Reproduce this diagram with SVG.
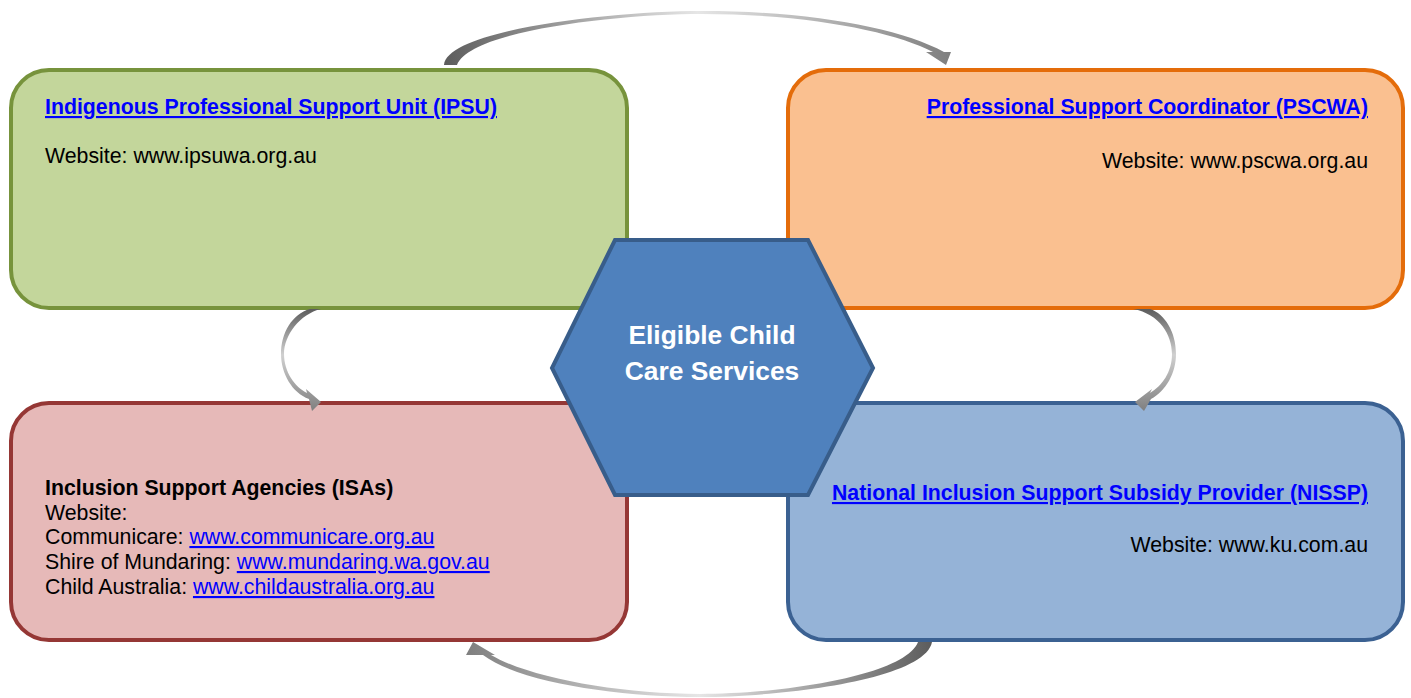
<svg xmlns="http://www.w3.org/2000/svg" width="1411" height="698" viewBox="0 0 1411 698">
<defs>
<style>
.t{font-family:"Liberation Sans",Arial,sans-serif;font-size:21.3px;fill:#000}
.b{font-weight:bold}
.lk{fill:#0000ff;text-decoration:underline}
.hx{font-family:"Liberation Sans",Arial,sans-serif;font-size:26.4px;font-weight:bold;fill:#fff}
.box{stroke-width:4}
</style>
<linearGradient id="gTop" gradientUnits="userSpaceOnUse" x1="444" y1="0" x2="951" y2="0">
<stop offset="0" stop-color="#5c5c5c"/><stop offset="0.5" stop-color="#e6e6e6"/><stop offset="1" stop-color="#7f7f7f"/>
</linearGradient>
<linearGradient id="gBot" gradientUnits="userSpaceOnUse" x1="932" y1="0" x2="466" y2="0">
<stop offset="0" stop-color="#5c5c5c"/><stop offset="0.5" stop-color="#e6e6e6"/><stop offset="1" stop-color="#7f7f7f"/>
</linearGradient>
<linearGradient id="gSide" gradientUnits="userSpaceOnUse" x1="0" y1="309" x2="0" y2="411">
<stop offset="0" stop-color="#5c5c5c"/><stop offset="0.45" stop-color="#d0d0d0"/><stop offset="1" stop-color="#7f7f7f"/>
</linearGradient>
</defs>
<rect width="1411" height="698" fill="#fff"/>

<g id="node-ipsu">
<rect class="box" x="11" y="70" width="616" height="238" rx="38" fill="#c3d69b" stroke="#77933c"/>
<text class="t b lk" x="45" y="114">Indigenous Professional Support Unit (IPSU)</text>
<text class="t" x="45" y="163">Website: www.ipsuwa.org.au</text>
</g>

<g id="node-pscwa">
<rect class="box" x="788" y="70" width="615" height="238" rx="38" fill="#fac090" stroke="#e46c0a"/>
<text class="t b lk" x="1368" y="114" text-anchor="end">Professional Support Coordinator (PSCWA)</text>
<text class="t" x="1368" y="168" text-anchor="end">Website: www.pscwa.org.au</text>
</g>

<g id="node-isa">
<rect class="box" x="11" y="403" width="616" height="237" rx="38" fill="#e6b9b8" stroke="#953735"/>
<text class="t b" x="45" y="495">Inclusion Support Agencies (ISAs)</text>
<text class="t" x="45" y="520">Website:</text>
<text class="t" x="45" y="544">Communicare: <tspan class="lk">www.communicare.org.au</tspan></text>
<text class="t" x="45" y="569">Shire of Mundaring: <tspan class="lk">www.mundaring.wa.gov.au</tspan></text>
<text class="t" x="45" y="594">Child Australia: <tspan class="lk">www.childaustralia.org.au</tspan></text>
</g>

<g id="node-nissp">
<rect class="box" x="788" y="403" width="615" height="237" rx="38" fill="#95b3d7" stroke="#3b6192"/>
<text class="t b lk" x="1368" y="500" text-anchor="end">National Inclusion Support Subsidy Provider (NISSP)</text>
<text class="t" x="1368" y="552" text-anchor="end">Website: www.ku.com.au</text>
</g>

<g id="connectors">
<path d="M444,65 C447,30 610,11 702,11 C810,11 900,28 944,52 L951,52 L946,65 L926,52 L933,52 C895,32 810,14 702,14 C620,14 470,30 457,65 Z" fill="url(#gTop)"/>
<path d="M932,642 C925,680 780,697 700,697 C620,697 520,683 483,655 L466,655 L473,642 L495,655 L491,655 C530,678 620,694 700,694 C780,694 905,676 918,642 Z" fill="url(#gBot)"/>
<path d="M321,309 C300,314 284,335 284,354 C284,372 295,387 307,393 L306,389 L321,402 L312,411 L309,399 C292,393 281,373 281,354 C281,333 292,314 310,309 Z" fill="url(#gSide)"/>
<path d="M1133,309 C1160,314 1172,335 1172,354 C1172,372 1162,386 1150,393 L1152,389 L1135,402 L1144,411 L1151,399 C1166,391 1176,373 1176,354 C1176,332 1165,314 1150,309 Z" fill="url(#gSide)"/>
</g>

<g id="node-center">
<polygon points="615,240 808,240 873,368 808,495 615,495 552,368" fill="#4f81bd" stroke="#385d8a" stroke-width="4" stroke-linejoin="miter"/>
<text class="hx" x="712" y="344" text-anchor="middle">Eligible Child</text>
<text class="hx" x="712" y="380" text-anchor="middle">Care Services</text>
</g>
</svg>
